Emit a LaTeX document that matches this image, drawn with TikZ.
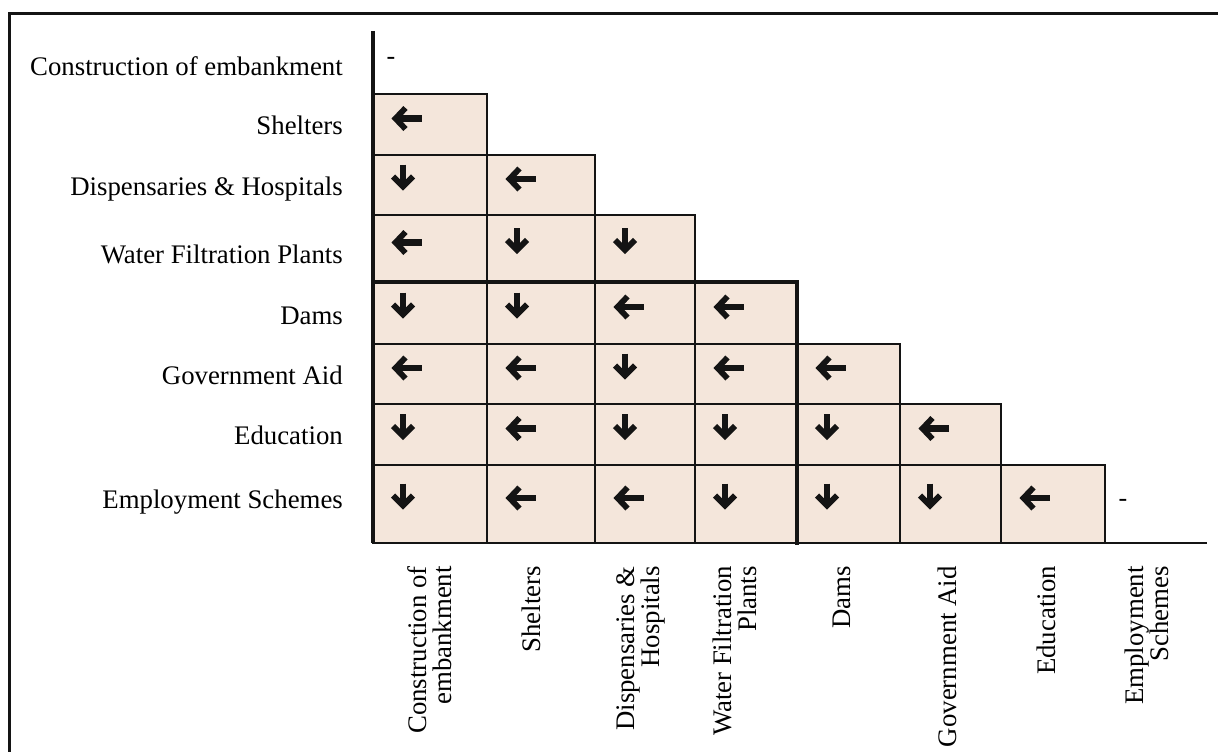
\documentclass[tikz,border=0pt]{standalone}
\usepackage{fontspec}
\setmainfont{Liberation Serif}
\definecolor{cellbg}{RGB}{244,230,219}
\definecolor{ink}{RGB}{20,20,20}
\tikzset{
  arrL/.pic={
    \draw[ink, line width=5.8pt, line join=miter, miter limit=10] (-0.5,-10.5) -- (-10.5,0) -- (-0.5,10.5);
    \draw[ink, line width=6.2pt] (-10,0) -- (15.5,0);
  },
  arrD/.pic={
    \draw[ink, line width=5.8pt, line join=miter, miter limit=10] (-10,-2.5) -- (0,7.5) -- (10,-2.5);
    \draw[ink, line width=6.2pt] (0,-14.5) -- (0,7);
  },
  arrLshift/.initial=33,
  arrDshift/.initial=30,
}
\begin{document}
\begin{tikzpicture}[x=1pt,y=-1pt,
  cellbox/.style={fill=cellbg, draw=ink, line width=1.6pt},
  heavy/.style={draw=ink, line width=3.6pt, line cap=rect},
  rowlab/.style={anchor=base east, inner sep=0pt, font=\fontsize{26.8}{22.5}\selectfont},
  collab/.style={anchor=east, rotate=90, align=right, inner sep=0pt, font=\fontsize{26.8}{25}\selectfont},
  nil/.style={inner sep=0pt, font=\fontsize{26}{22}\selectfont},
]
\useasboundingbox (0,0) rectangle (1218,752);
\clip (0,0) rectangle (1218,752);
\fill[white] (0,0) rectangle (1218,752);

% outer frame
\draw[ink, line width=3pt] (9,13.5) rectangle (1240,775);

% grid positions
\def\colx{{373,487,595,695,797,900,1001,1105,1207}}
\def\rowy{{31,94,155,215,282,344,404,465,543}}

% cells of the lower triangle with their arrows
\foreach \rr/\cc/\d in {
  1/0/L,
  2/0/D, 2/1/L,
  3/0/L, 3/1/D, 3/2/D,
  4/0/D, 4/1/D, 4/2/L, 4/3/L,
  5/0/L, 5/1/L, 5/2/D, 5/3/L, 5/4/L,
  6/0/D, 6/1/L, 6/2/D, 6/3/D, 6/4/D, 6/5/L,
  7/0/D, 7/1/L, 7/2/L, 7/3/D, 7/4/D, 7/5/D, 7/6/L} {
  \pgfmathsetmacro\xa{\colx[\cc]}
  \pgfmathsetmacro\xb{\colx[\cc+1]}
  \pgfmathsetmacro\ya{\rowy[\rr]}
  \pgfmathsetmacro\yb{\rowy[\rr+1]}
  \pgfmathsetmacro\ym{(\ya+\yb)/2-6}
  \pgfmathsetmacro\xm{\xa+\pgfkeysvalueof{/tikz/arr\d shift}}
  \draw[cellbox] (\xa,\ya) rectangle (\xb,\yb);
  \pic at (\xm,\ym) {arr\d};
}

% heavier block edges
\draw[draw=ink, line width=2.6pt] (373,94) -- (487,94);
\draw[heavy] (373,282) -- (797,282) -- (797,543);

% axes
\draw[draw=ink, line width=3.8pt] (373,31) -- (373,543);
\draw[draw=ink, line width=2.4pt] (373,543) -- (1207,543);

% diagonal placeholders
\node[nil] (d0) at (391,61) {-};
\node[nil] (d7) at (1123,503) {-};

% row labels
\node[rowlab] (r0) at (343,75) {Construction of embankment};
\node[rowlab] (r1) at (343,134) {Shelters};
\node[rowlab] (r2) at (343,195) {Dispensaries \& Hospitals};
\node[rowlab] (r3) at (343,263) {Water Filtration Plants};
\node[rowlab] (r4) at (343,324) {Dams};
\node[rowlab] (r5) at (343,384) {Government Aid};
\node[rowlab] (r6) at (343,444) {Education};
\node[rowlab] (r7) at (343,508) {Employment Schemes};

% column labels
\node[collab] (c0) at (430,566) {Construction of\\embankment};
\node[collab] (c1) at (531,566) {Shelters};
\node[collab] (c2) at (641,566) {Dispensaries \&\\Hospitals};
\node[collab] (c3) at (735,566) {Water Filtration\\Plants};
\node[collab] (c4) at (842,566) {Dams};
\node[collab] (c5) at (947,566) {Government Aid};
\node[collab] (c6) at (1046,566) {Education};
\node[collab] (c7) at (1147,566) {Employment\\Schemes};
\end{tikzpicture}
\end{document}
